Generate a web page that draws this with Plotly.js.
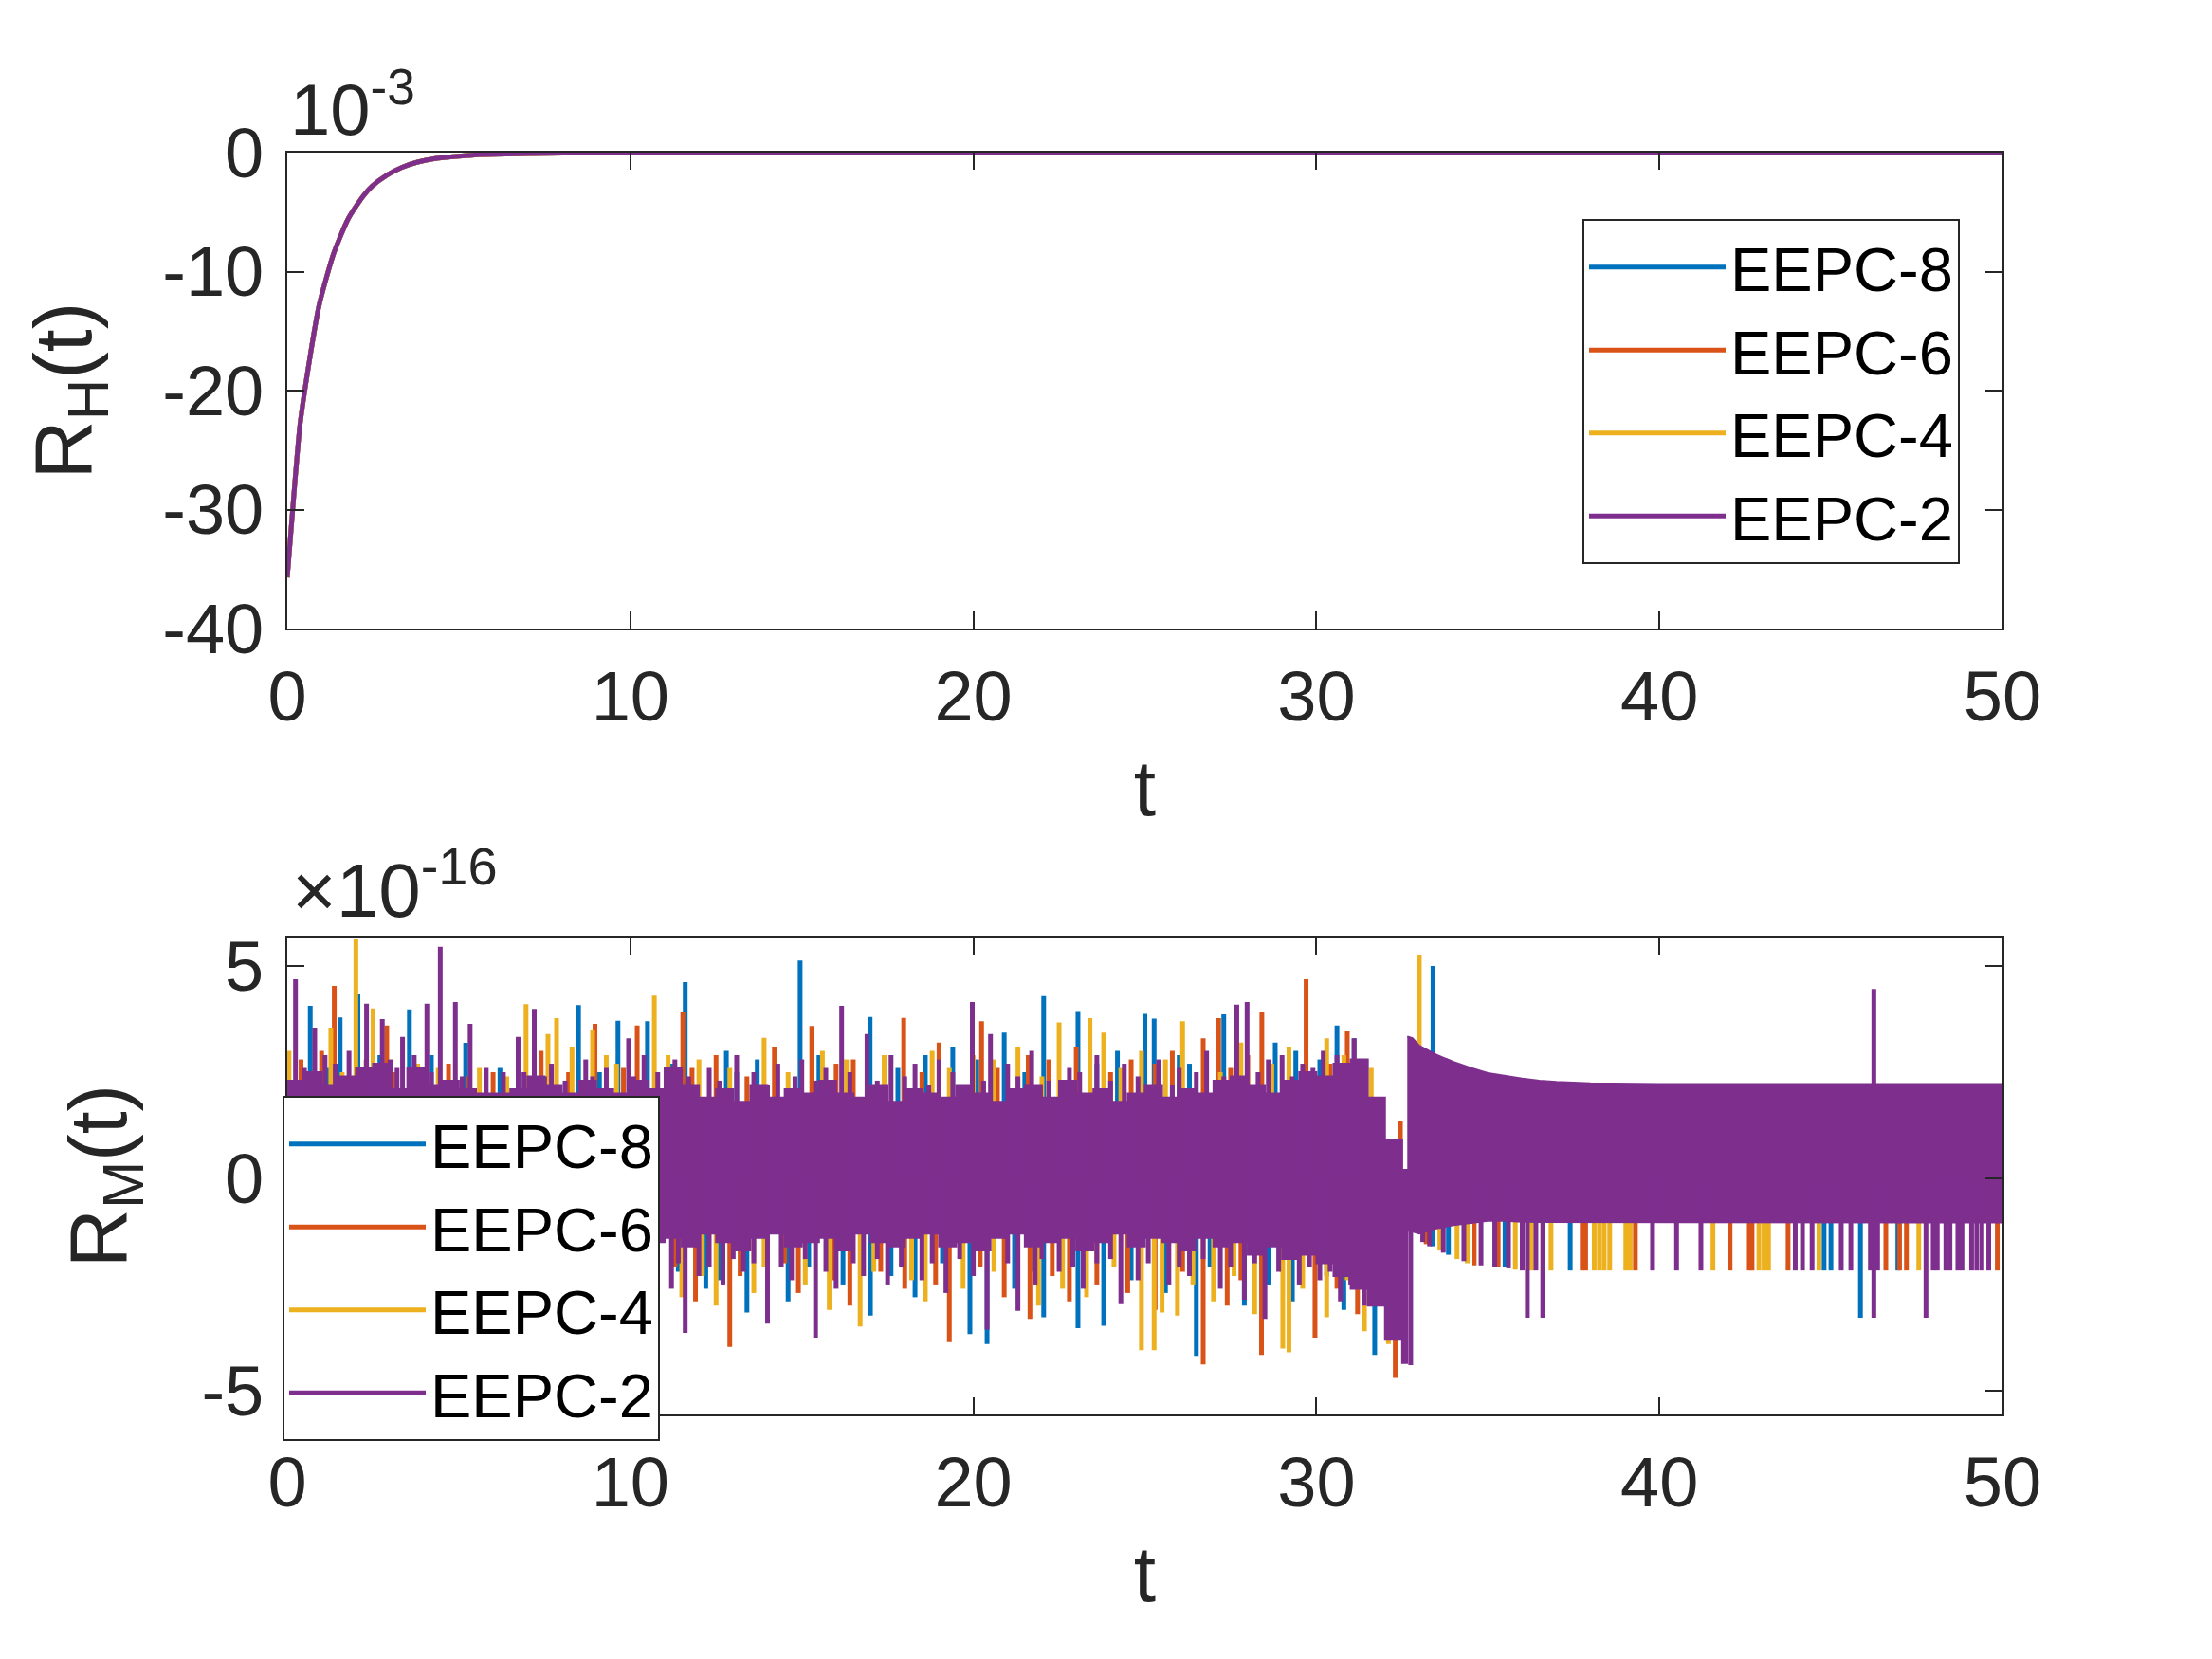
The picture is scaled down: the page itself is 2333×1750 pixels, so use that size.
<!DOCTYPE html>
<html><head><meta charset="utf-8">
<script src="https://cdn.plot.ly/plotly-3.0.1.min.js"></script>
<style>html,body{margin:0;padding:0;background:#fff}</style>
</head><body><div id="chart" style="width:2333px;height:1750px"></div>
<script>
// ---------- data ----------
const SERIES_NAMES = ['EEPC-8','EEPC-6','EEPC-4','EEPC-2'];
const SERIES_COLORS = ['#0072BD','#D95319','#EDB120','#7E2F8E'];
const X_TICKS = [0,10,20,30,40,50];
const X_TICK_LABELS = ['0','10','20','30','40','50'];
const RH_TICKS = [0,-10,-20,-30,-40];
const RH_TICK_LABELS = ['0','-10','-20','-30','-40'];
const RM_TICKS = [-5,0,5];
const RM_TICK_LABELS = ['-5','0','5'];

// top panel: R_H(t) in units of 1e-3 (all four schemes coincide)
const RH_T = [0,0.16,0.37,0.65,0.93,1.35,1.77,2.2,2.48,2.9,3.33,3.8,4.31,5.0,5.7,7.0,9.0,12.0,20.0,30.0,40.0,50.0];
const RH_EEPC8 = [-35.7,-29.9,-22.9,-17.4,-12.8,-8.5,-5.6,-3.7,-2.8,-1.9,-1.25,-0.8,-0.5,-0.3,-0.16,-0.07,-0.02,-0.005,0,0,0,0];
const RH_EEPC6 = [-35.7,-29.9,-22.9,-17.4,-12.8,-8.5,-5.6,-3.7,-2.8,-1.9,-1.25,-0.8,-0.5,-0.3,-0.16,-0.07,-0.02,-0.005,0,0,0,0];
const RH_EEPC4 = [-35.7,-29.9,-22.9,-17.4,-12.8,-8.5,-5.6,-3.7,-2.8,-1.9,-1.25,-0.8,-0.5,-0.3,-0.16,-0.07,-0.02,-0.005,0,0,0,0];
const RH_EEPC2 = [-35.7,-29.9,-22.9,-17.4,-12.8,-8.5,-5.6,-3.7,-2.8,-1.9,-1.25,-0.8,-0.5,-0.3,-0.16,-0.07,-0.02,-0.005,0,0,0,0];

// bottom panel: R_M(t) in units of 1e-16
// dense EEPC-2 core before the jump (upper / lower envelope)
const RM_CORE_A_T = [0,0.5,1,1.5,2,2.5,3,3.5,4,4.5,5,5.5,6,6.5,7,7.5,8,8.5,9,9.5,10,10.5,11,11.5,12,12.5,13,13.5,14,14.5,15,15.5,16,16.5,17,17.5,18,18.5,19,19.5,20,20.5,21,21.5,22,22.5,23,23.5,24,24.5,25,25.5,26,26.5,27,27.5,28,28.5,29,29.5,30,30.5,31,31.5,32,32.5,32.65];
const RM_CORE_A_UP = [2.3,2.5,2.2,2.4,2.6,2.7,2.1,2.6,2.2,2.3,
  2.1,2.0,2.0,2.1,2.4,2.2,2.0,2.3,2.1,2.0,
  2.3,2.1,2.6,2.2,1.9,2.1,1.8,2.2,1.9,2.1,
  2.0,2.3,2.0,1.9,2.2,1.8,2.1,2.0,1.9,2.2,
  2.0,1.8,2.1,2.2,1.9,2.3,2.0,2.1,1.8,2.0,
  2.2,1.9,2.1,2.0,2.3,2.4,2.2,2.0,2.3,2.5,
  2.4,2.7,2.8,1.9,0.9,0.2,0.1];
const RM_CORE_A_LO = [-1.8,-1.6,-1.9,-1.7,-2.0,-1.8,-1.6,-1.9,-1.7,-1.8,
  -1.6,-1.9,-1.7,-1.8,-2.0,-1.6,-1.8,-1.7,-1.9,-1.6,
  -1.8,-1.7,-1.5,-1.4,-1.6,-1.3,-1.5,-1.7,-1.4,-1.3,
  -1.6,-1.5,-1.4,-1.7,-1.3,-1.5,-1.6,-1.4,-1.3,-1.6,
  -1.5,-1.7,-1.4,-1.3,-1.6,-1.5,-1.4,-1.7,-1.5,-1.3,
  -1.6,-1.4,-1.5,-1.7,-1.4,-1.6,-1.5,-1.8,-1.6,-1.9,
  -1.8,-2.0,-2.3,-2.6,-3.0,-3.8,-4.35];
// dense EEPC-2 core after the jump
const RM_CORE_B_T = [32.65,32.8,33.0,33.5,34.0,34.5,35.0,35.5,36.0,36.5,37.0,38.0,40.0,45.0,50.0];
const RM_CORE_B_UP = [3.34,3.3,3.12,2.91,2.74,2.6,2.48,2.41,2.35,2.3,2.27,2.24,2.22,2.22,2.22];
const RM_CORE_B_LO = [-1.23,-1.25,-1.3,-1.18,-1.1,-1.05,-1.0,-1.0,-1.02,-1.03,-1.03,-1.04,-1.04,-1.04,-1.04];

// excursions of each scheme beyond the core (time, extreme value)
const RM_EEPC8_T = [0.67,1.54,2.06,3.56,4.2,5.2,6.2,8.49,9.64,10.5,11.6,12.8,13.7,14.95,16.99,18.6,19.4,20.9,22.05,23.05,24.2,25.0,25.27,26.3,27.3,28.8,29.4,30.1,30.6,31.1,33.4,
  12.2,13.4,14.6,16.2,17.0,18.3,19.9,20.4,21.2,22.05,23.05,23.8,25.6,26.5,27.9,29.3,30.8,31.7,
  33.4,33.85,35.5,37.4,44.8,45.0,45.86,46.95,
  11.2,13.1,15.5,17.8,20.1,21.5,23.6,26.0,27.7,29.9,1.2,2.7,7.0,9.1,
  11.4,12.6,15.2,17.6,19.1,21.7,24.6,26.9,28.6,30.3];
const RM_EEPC8_V = [4.06,3.79,4.33,3.98,2.9,3.19,2.6,4.08,3.71,3.7,4.62,3.0,2.8,5.13,3.8,2.9,3.1,3.43,4.29,3.94,3.0,3.87,3.76,2.7,3.86,3.2,3.0,2.8,3.6,3.3,5.0,
  -2.6,-3.16,-2.9,-2.5,-3.23,-2.8,-3.67,-3.9,-2.6,-3.27,-3.53,-3.47,-2.7,-4.18,-3.0,-2.9,-3.1,-4.16,
  -1.6,-1.8,-2.1,-2.17,-2.17,-2.17,-3.28,-2.17,
  2.7,2.5,2.9,2.6,2.8,2.5,2.7,2.9,2.6,2.5,2.6,2.9,2.4,2.5,
  -2.2,-2.4,-2.1,-2.3,-2.0,-2.2,-2.4,-2.1,-2.5,-2.3];

const RM_EEPC6_T = [0.4,1.0,1.37,2.9,3.1,4.7,6.0,7.4,8.97,10.2,11.53,12.5,14.2,15.29,16.5,17.97,19.0,20.24,21.6,23.0,24.6,25.8,26.7,27.15,28.0,28.41,29.7,30.9,32.45,
  11.9,12.9,14.9,16.4,18.0,19.3,20.9,21.65,22.8,24.5,25.3,26.7,27.4,28.4,29.96,31.2,32.3,
  33.2,34.6,35.3,37.75,37.85,39.3,42.06,42.62,42.7,43.75,46.6,47.0,47.2,49.85,
  11.8,13.4,16.0,18.5,20.7,22.2,24.0,25.3,27.5,29.2,30.4,2.3,5.3,8.2,9.8,
  11.3,13.2,14.5,15.9,17.3,18.9,20.2,22.3,23.6,26.1,27.8,29.0,30.6];
const RM_EEPC6_V = [2.8,3.0,4.53,3.6,2.5,2.7,2.5,3.0,3.64,3.6,3.93,2.9,3.1,3.59,2.8,3.78,3.2,3.7,2.9,3.1,2.8,3.0,3.3,3.77,2.9,3.93,4.69,3.46,1.35,
  -2.9,-3.97,-2.7,-3.0,-2.6,-3.86,-2.8,-3.31,-2.9,-2.7,-3.1,-4.38,-3.0,-4.16,-3.75,-3.2,-4.7,
  -1.55,-2.05,-2.1,-2.17,-2.17,-2.17,-2.17,-2.17,-2.17,-2.17,-2.17,-2.17,-2.17,-2.17,
  2.6,2.4,2.7,2.5,2.6,2.8,2.5,2.7,2.6,2.8,2.7,2.8,2.4,2.5,2.6,
  -2.1,-2.3,-2.0,-2.4,-2.2,-2.5,-2.1,-2.3,-2.5,-2.2,-2.4,-2.2,-2.6];

const RM_EEPC4_T = [0.05,1.27,2.0,2.5,3.8,5.6,6.96,7.6,7.85,8.3,8.9,9.3,10.7,12.0,13.9,15.6,17.4,18.8,20.6,21.3,22.5,23.4,23.8,24.9,26.1,27.8,29.2,30.3,31.6,33.0,
  11.5,12.5,13.6,15.8,16.7,18.6,19.7,21.9,23.3,24.9,25.27,25.5,25.95,27.0,28.2,29.02,29.2,30.3,31.4,32.1,
  33.6,34.1,34.4,35.8,36.27,36.84,38.1,38.25,38.39,38.55,39.02,39.15,41.56,42.9,43.05,43.18,44.65,47.56,
  11.1,12.9,14.6,16.3,19.3,20.0,22.0,24.3,25.6,27.2,28.7,30.8,1.6,4.4,6.4,9.6,
  12.1,13.9,15.1,17.1,18.2,20.6,22.6,24.1,26.4,27.6,29.6,30.9];
const RM_EEPC4_V = [3.0,3.55,5.65,4.0,2.7,2.6,4.1,3.4,3.77,3.1,3.5,2.9,4.3,2.8,3.31,3.0,2.9,3.0,2.8,3.1,3.67,3.77,3.43,3.0,3.7,3.2,3.1,3.3,2.6,5.27,
  -2.8,-3.0,-2.7,-3.1,-3.49,-2.9,-2.6,-3.0,-2.8,-4.05,-4.05,-3.16,-3.23,-2.9,-3.2,-4.01,-4.1,-3.27,-3.6,-3.9,
  -1.7,-1.9,-2.0,-2.15,-2.17,-2.17,-2.17,-2.17,-2.17,-2.17,-2.17,-2.17,-2.17,-2.17,-2.17,-2.17,-2.17,-2.17,
  2.9,2.6,2.5,2.8,2.6,2.9,2.4,2.6,2.8,2.5,2.7,2.9,2.5,2.6,2.4,2.7,
  -2.3,-2.1,-2.5,-2.2,-2.4,-2.2,-2.6,-2.1,-2.5,-2.3,-2.6,-2.4];

const RM_EEPC2_T = [0.24,0.8,1.1,1.8,2.31,2.77,3.0,3.36,3.7,4.07,4.46,4.9,5.33,5.8,6.3,6.73,7.2,7.7,8.7,9.3,9.95,10.4,11.3,12.3,13.1,14.3,15.0,15.7,16.16,16.9,17.6,18.3,19.0,19.97,20.5,21.0,21.7,22.8,23.6,24.4,25.4,26.0,26.8,27.68,27.98,28.6,29.0,29.6,30.2,31.1,46.25,
  11.2,11.6,12.0,12.7,13.3,14.0,14.7,15.4,16.0,16.8,17.5,18.5,19.2,20.0,20.4,21.3,21.8,22.5,23.2,24.3,24.8,25.7,26.3,27.2,27.9,28.5,29.5,30.1,30.7,31.4,32.75,
  33.1,33.3,33.7,34.3,34.8,35.2,35.6,36.0,36.15,36.4,36.6,39.8,40.5,41.21,43.96,44.17,44.45,45.3,45.58,46.15,46.25,46.36,47.77,47.98,48.1,48.35,48.47,48.7,48.82,49.1,49.25,49.4,49.6,
  11.7,12.6,13.6,14.0,14.8,15.4,16.4,17.2,18.0,18.7,19.4,20.3,21.3,22.2,23.1,24.0,24.8,25.8,26.5,27.3,28.3,29.3,29.9,30.6,0.5,1.4,2.1,3.2,4.2,5.1,6.9,7.5,8.1,8.9,10.1,10.8,
  11.4,12.3,13.0,13.6,14.4,15.1,15.7,16.5,17.2,17.9,18.8,19.6,21.0,22.0,22.9,23.6,24.0,25.1,26.0,26.7,27.5,28.2,28.9,29.8,30.4,31.0];
const RM_EEPC2_V = [4.69,3.55,2.9,3.0,4.11,3.75,2.8,3.33,2.9,4.11,5.45,4.15,3.64,2.6,2.5,3.33,3.99,2.7,2.8,2.6,3.3,2.9,2.8,2.6,2.9,2.7,2.8,2.6,4.06,3.4,2.9,2.7,2.8,4.15,3.4,2.7,3.0,2.6,2.9,2.7,2.8,2.6,3.0,4.09,4.15,2.8,2.9,2.7,3.0,3.3,4.46,
  -2.6,-3.64,-2.3,-2.5,-2.2,-3.42,-2.4,-3.75,-2.6,-2.3,-2.5,-2.4,-2.7,-2.3,-3.56,-3.12,-2.5,-2.2,-2.6,-2.94,-2.4,-2.5,-2.3,-2.6,-2.86,-3.31,-2.5,-2.4,-2.9,-3.0,-4.4,
  -1.5,-1.6,-1.75,-1.95,-2.05,-2.1,-2.12,-2.17,-3.28,-2.17,
  -3.28,-2.17,-2.17,-2.17,-2.17,-2.17,-2.17,-2.17,-2.17,-2.17,
  -3.28,-2.17,-3.28,
  -2.17,-2.17,-2.17,-2.17,-2.17,-2.17,-2.17,-2.17,-2.17,-2.17,
  2.4,2.3,2.5,2.2,2.4,2.3,2.5,2.3,2.4,2.2,2.5,2.3,2.4,2.3,2.5,2.3,2.4,2.2,2.5,2.4,2.5,2.4,2.6,2.9,2.6,2.7,2.5,2.6,2.5,2.4,2.5,2.4,2.3,2.4,2.4,2.5,
  -2.0,-2.1,-1.9,-2.0,-2.1,-1.9,-2.2,-2.0,-1.9,-2.1,-2.0,-1.9,-2.0,-1.9,-2.1,-2.0,-1.9,-2.0,-2.1,-1.9,-2.1,-2.0,-2.2,-2.1,-2.2,-2.5];

// ---------- build ----------
const W = 2333, H = 1750;
const AX = '#262626';
const FONT = 'Liberation Sans, Arial, Helvetica, sans-serif';

function excursions(ts, vs) {
  const x = [], y = [];
  ts.forEach((t, i) => { x.push(t, t, null); y.push(0, vs[i], null); });
  return {x, y};
}
function band(ts, up, lo) {
  return {x: ts.concat(ts.slice().reverse()), y: up.concat(lo.slice().reverse())};
}

const traces = [];
const RH_ALL = [RH_EEPC8, RH_EEPC6, RH_EEPC4, RH_EEPC2];
RH_ALL.forEach((vals, i) => {
  traces.push({type:'scatter', mode:'lines', x:RH_T, y:vals, xaxis:'x', yaxis:'y',
    name:SERIES_NAMES[i], legend:'legend',
    line:{color:SERIES_COLORS[i], width:5, shape:'spline', smoothing:0.6}});
});

const RM_T_ALL = [RM_EEPC8_T, RM_EEPC6_T, RM_EEPC4_T];
const RM_V_ALL = [RM_EEPC8_V, RM_EEPC6_V, RM_EEPC4_V];
RM_T_ALL.forEach((ts, i) => {
  const e = excursions(ts, RM_V_ALL[i]);
  traces.push({type:'scatter', mode:'lines', x:e.x, y:e.y, xaxis:'x2', yaxis:'y2',
    name:SERIES_NAMES[i], legend:'legend2', connectgaps:false,
    line:{color:SERIES_COLORS[i], width:5}});
});
const bA = band(RM_CORE_A_T, RM_CORE_A_UP, RM_CORE_A_LO);
traces.push({type:'scatter', mode:'lines', x:bA.x, y:bA.y, xaxis:'x2', yaxis:'y2',
  fill:'toself', fillcolor:SERIES_COLORS[3], showlegend:false, hoverinfo:'skip',
  line:{color:SERIES_COLORS[3], width:2, shape:'hv'}});
const bB = band(RM_CORE_B_T, RM_CORE_B_UP, RM_CORE_B_LO);
traces.push({type:'scatter', mode:'lines', x:bB.x, y:bB.y, xaxis:'x2', yaxis:'y2',
  fill:'toself', fillcolor:SERIES_COLORS[3], showlegend:false, hoverinfo:'skip',
  line:{color:SERIES_COLORS[3], width:2}});
const e2 = excursions(RM_EEPC2_T, RM_EEPC2_V);
traces.push({type:'scatter', mode:'lines', x:e2.x, y:e2.y, xaxis:'x2', yaxis:'y2',
  name:SERIES_NAMES[3], legend:'legend2', connectgaps:false,
  line:{color:SERIES_COLORS[3], width:5}});

function xax(anchor) {
  return {anchor, domain:[303/W, 2112/W], range:[0,50], tickmode:'array', tickvals:X_TICKS, ticktext:X_TICK_LABELS,
    ticks:'inside', ticklen:18, tickwidth:2, tickcolor:AX, showline:true, linecolor:AX, linewidth:2,
    mirror:'allticks', showgrid:false, zeroline:false, ticklabelstandoff:6,
    tickfont:{family:FONT, size:74, color:AX},
    title:{text:'t', font:{family:FONT, size:84, color:AX}, standoff:26}};
}
function yax(anchor, dom, range, tv, tt, title, standoff) {
  return {anchor, domain:dom, range, tickmode:'array', tickvals:tv, ticktext:tt,
    ticks:'inside', ticklen:18, tickwidth:2, tickcolor:AX, showline:true, linecolor:AX, linewidth:2,
    mirror:'allticks', showgrid:false, zeroline:false, ticklabelstandoff:8,
    tickfont:{family:FONT, size:74, color:AX},
    title:{text:title, font:{family:FONT, size:86, color:AX}, standoff}};
}
const legendStyle = {xanchor:'left', yanchor:'top', bgcolor:'#ffffff', bordercolor:AX, borderwidth:2,
  font:{family:FONT, size:65, color:'#000000'}, itemwidth:144, traceorder:'normal', tracegroupgap:0};

const layout = {
  width:W, height:H, margin:{l:0, r:0, t:0, b:0},
  paper_bgcolor:'#ffffff', plot_bgcolor:'#ffffff',
  font:{family:FONT, size:74, color:AX},
  showlegend:true,
  xaxis: xax('y'),
  yaxis: yax('x', [1-663/H, 1-161/H], [-40,0], RH_TICKS, RH_TICK_LABELS, 'R<sub>H</sub>(t)', 46),
  xaxis2: xax('y2'),
  yaxis2: yax('x2', [1-1492/H, 1-989/H], [-5.56,5.67], RM_TICKS, RM_TICK_LABELS, 'R<sub>M</sub>(t)', 50),
  legend: Object.assign({x:1669/W, y:1-231/H}, legendStyle),
  legend2: Object.assign({x:298/W, y:1-1156/H}, legendStyle),
  annotations:[
    {xref:'paper', yref:'paper', x:304/W, y:1-160/H, xanchor:'left', yanchor:'bottom', showarrow:false,
     text:'10<sup>-3</sup>', font:{family:FONT, size:76, color:AX}},
    {xref:'paper', yref:'paper', x:306/W, y:1-986/H, xanchor:'left', yanchor:'bottom', showarrow:false,
     text:'×10<sup>-16</sup>', font:{family:FONT, size:80, color:AX}}
  ]
};

Plotly.newPlot('chart', traces, layout, {staticPlot:true, displayModeBar:false});
</script>
</body></html>
